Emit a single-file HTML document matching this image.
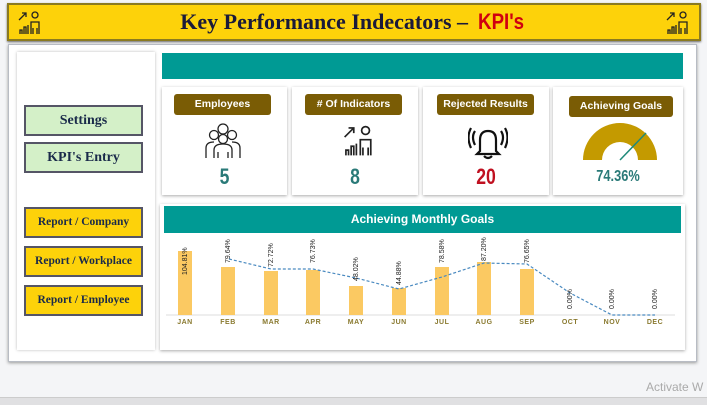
<!DOCTYPE html>
<html><head><meta charset="utf-8"><style>
*{margin:0;padding:0;box-sizing:border-box}
body{width:707px;height:405px;background:#f4f5f7;position:relative;overflow:hidden;font-family:"Liberation Sans",sans-serif}
.a{position:absolute}
.hdr{left:7px;top:3px;width:694px;height:38px;background:#fdd20a;border:2px solid #8a7a20;box-shadow:0 1px 2px #666}
.title{left:0;top:0;width:100%;line-height:34px;text-align:center;font-family:"Liberation Serif",serif;font-weight:bold;font-size:22px;color:#1a1a3a}
.panel{left:8px;top:44px;width:689px;height:318px;background:#fff;border:1px solid #b8bcc4;box-shadow:0 1px 3px #999}
.side{left:17px;top:52px;width:138px;height:298px;background:#fff;box-shadow:0 0 3px #bbb}
.btn{left:24px;width:119px;height:31px;border:2px solid #556;font-family:"Liberation Serif",serif;font-weight:bold;color:#1a2a4a;text-align:center;line-height:27px}
.g{background:#d4f0c8;font-size:14px}
.y{background:#fdd20a;font-size:11.5px}
.card{top:87px;height:108px;background:#fff;box-shadow:0 1px 3px #aaa}
.pill{top:94px;height:21px;background:#7a5c05;color:#fff;border-radius:3px;font-size:10.5px;font-weight:bold;text-align:center;line-height:21px}
.num{top:164px;font-size:22px;font-weight:bold;text-align:center;color:#2a7a78;transform:scaleX(.8)}
.m{top:319px;width:40px;text-align:center;font-size:7px;font-weight:bold;color:#8a7a30;letter-spacing:.5px}
</style></head><body>
<div class="a hdr"><div class="a title">Key Performance Indecators – <span style="color:#d00010;font-family:'Liberation Sans',sans-serif;transform:scaleX(.85);display:inline-block">KPI's</span></div>
<svg class="a" style="left:8px;top:3px" width="26" height="30" viewBox="0 0 26 26" fill="none" stroke="#222" stroke-width="1.3"><path d="M2 10 L9 3 M5 3h4v4"/><circle cx="18" cy="5" r="3"/><path d="M14 24V12h8v12M16 24v-6M20 24v-6M3 24v-4h2v4M7 24v-7h2v7M11 24v-9"/></svg>
<svg class="a" style="left:656px;top:3px" width="26" height="30" viewBox="0 0 26 26" fill="none" stroke="#222" stroke-width="1.3"><path d="M2 10 L9 3 M5 3h4v4"/><circle cx="18" cy="5" r="3"/><path d="M14 24V12h8v12M16 24v-6M20 24v-6M3 24v-4h2v4M7 24v-7h2v7M11 24v-9"/></svg>
</div>
<div class="a panel"></div>
<div class="a side"></div>
<div class="a btn g" style="top:105px">Settings</div>
<div class="a btn g" style="top:142px">KPI's Entry</div>
<div class="a btn y" style="top:207px">Report / Company</div>
<div class="a btn y" style="top:246px">Report / Workplace</div>
<div class="a btn y" style="top:285px">Report / Employee</div>
<div class="a" style="left:162px;top:53px;width:521px;height:26px;background:#009a94"></div>
<div class="a card" style="left:162px;width:125px"></div>
<div class="a card" style="left:292px;width:126px"></div>
<div class="a card" style="left:423px;width:126px"></div>
<div class="a card" style="left:553px;width:130px"></div>
<div class="a pill" style="left:174px;width:97px">Employees</div>
<div class="a pill" style="left:305px;width:97px"># Of Indicators</div>
<div class="a pill" style="left:437px;width:97px">Rejected Results</div>
<div class="a pill" style="left:569px;width:104px;top:96px">Achieving Goals</div>
<svg class="a" style="left:203px;top:122px" width="40" height="38" viewBox="0 0 40 38" fill="none" stroke="#222" stroke-width="1.3"><circle cx="20" cy="7" r="5"/><circle cx="11" cy="13" r="4.5"/><circle cx="29" cy="13" r="4.5"/><circle cx="20" cy="17" r="4.5"/><path d="M3 36V26q0-6 8-6M37 36V26q0-6-8-6M11 36V28q0-6 9-6t9 6v8M15 36v-6M25 36v-6"/></svg>
<svg class="a" style="left:342px;top:123px" width="34" height="36" viewBox="0 0 26 26" fill="none" stroke="#222" stroke-width="1.3"><path d="M2 10 L9 3 M5 3h4v4"/><circle cx="18" cy="5" r="3"/><path d="M14 24V12h8v12M16 24v-6M20 24v-6M3 24v-4h2v4M7 24v-7h2v7M11 24v-9"/></svg>
<svg class="a" style="left:468px;top:123px" width="40" height="38" viewBox="0 0 40 38" fill="none" stroke="#111" stroke-width="2.2"><path d="M12 28V17q0-9 8-9t8 9v11l3 3H9z"/><path d="M16 33q4 4 8 0"/><path d="M7 8q-4 6 0 14M3 5q-5 9 0 20M33 8q4 6 0 14M37 5q5 9 0 20"/></svg>
<div class="a num" style="left:162px;width:125px">5</div>
<div class="a num" style="left:292px;width:126px">8</div>
<div class="a num" style="left:423px;width:126px;color:#c01020">20</div>
<div class="a num" style="left:553px;width:130px;font-size:16px;top:168px">74.36%</div>
<svg class="a" style="left:580px;top:120px" width="80" height="42"><path d="M3 40 A37 37 0 0 1 77 40 L58 40 A18 18 0 0 0 22 40Z" fill="#c49a00"/><line x1="40" y1="40" x2="66" y2="13" stroke="#1f8a7a" stroke-width="1.5"/></svg>
<div class="a" style="left:160px;top:204px;width:525px;height:146px;background:#fff;box-shadow:0 1px 3px #aaa"></div>
<div class="a" style="left:164px;top:206px;width:517px;height:27px;background:#009a94;color:#fff;font-weight:bold;font-size:12px;text-align:center;line-height:27px">Achieving Monthly Goals</div>
<svg class="a" style="left:160px;top:233px" width="525" height="90" font-family="Liberation Sans" font-size="7" fill="#222">
<line x1="6" y1="82" x2="515" y2="82" stroke="#ddd"/>
<g fill="#fbc962">
<rect x="18" y="18" width="14" height="64"/><rect x="61" y="34" width="14" height="48"/><rect x="104" y="38" width="14" height="44"/><rect x="146" y="37" width="14" height="45"/><rect x="189" y="53" width="14" height="29"/><rect x="232" y="55" width="14" height="27"/><rect x="275" y="34" width="14" height="48"/><rect x="317" y="29" width="14" height="53"/><rect x="360" y="36" width="14" height="46"/>
</g>
<polyline points="69,26 111,36 153,36 196,45 239,56 282,44 324,30 367,31 410,60 452,82 495,82" fill="none" stroke="#4a8ac0" stroke-width="1.2" stroke-dasharray="3,2"/>
<g>
<text transform="translate(27,42) rotate(-90)">104.81%</text>
<text transform="translate(70,30) rotate(-90)">79.64%</text>
<text transform="translate(113,34) rotate(-90)">72.72%</text>
<text transform="translate(155,30) rotate(-90)">76.73%</text>
<text transform="translate(198,48) rotate(-90)">48.02%</text>
<text transform="translate(241,52) rotate(-90)">44.88%</text>
<text transform="translate(284,30) rotate(-90)">78.58%</text>
<text transform="translate(326,28) rotate(-90)">87.20%</text>
<text transform="translate(369,30) rotate(-90)">76.65%</text>
<text transform="translate(412,76) rotate(-90)">0.00%</text>
<text transform="translate(454,76) rotate(-90)">0.00%</text>
<text transform="translate(497,76) rotate(-90)">0.00%</text>
</g></svg>
<div class="a m" style="left:165px">JAN</div><div class="a m" style="left:208px">FEB</div><div class="a m" style="left:251px">MAR</div><div class="a m" style="left:293px">APR</div><div class="a m" style="left:336px">MAY</div><div class="a m" style="left:379px">JUN</div><div class="a m" style="left:422px">JUL</div><div class="a m" style="left:464px">AUG</div><div class="a m" style="left:507px">SEP</div><div class="a m" style="left:550px">OCT</div><div class="a m" style="left:592px">NOV</div><div class="a m" style="left:635px">DEC</div>
<div class="a" style="left:646px;top:380px;font-size:12px;color:#aaa">Activate W</div>
<div class="a" style="left:0;top:397px;width:707px;height:8px;background:#e0e0e2;border-top:1px solid #ccc"></div>
</body></html>
